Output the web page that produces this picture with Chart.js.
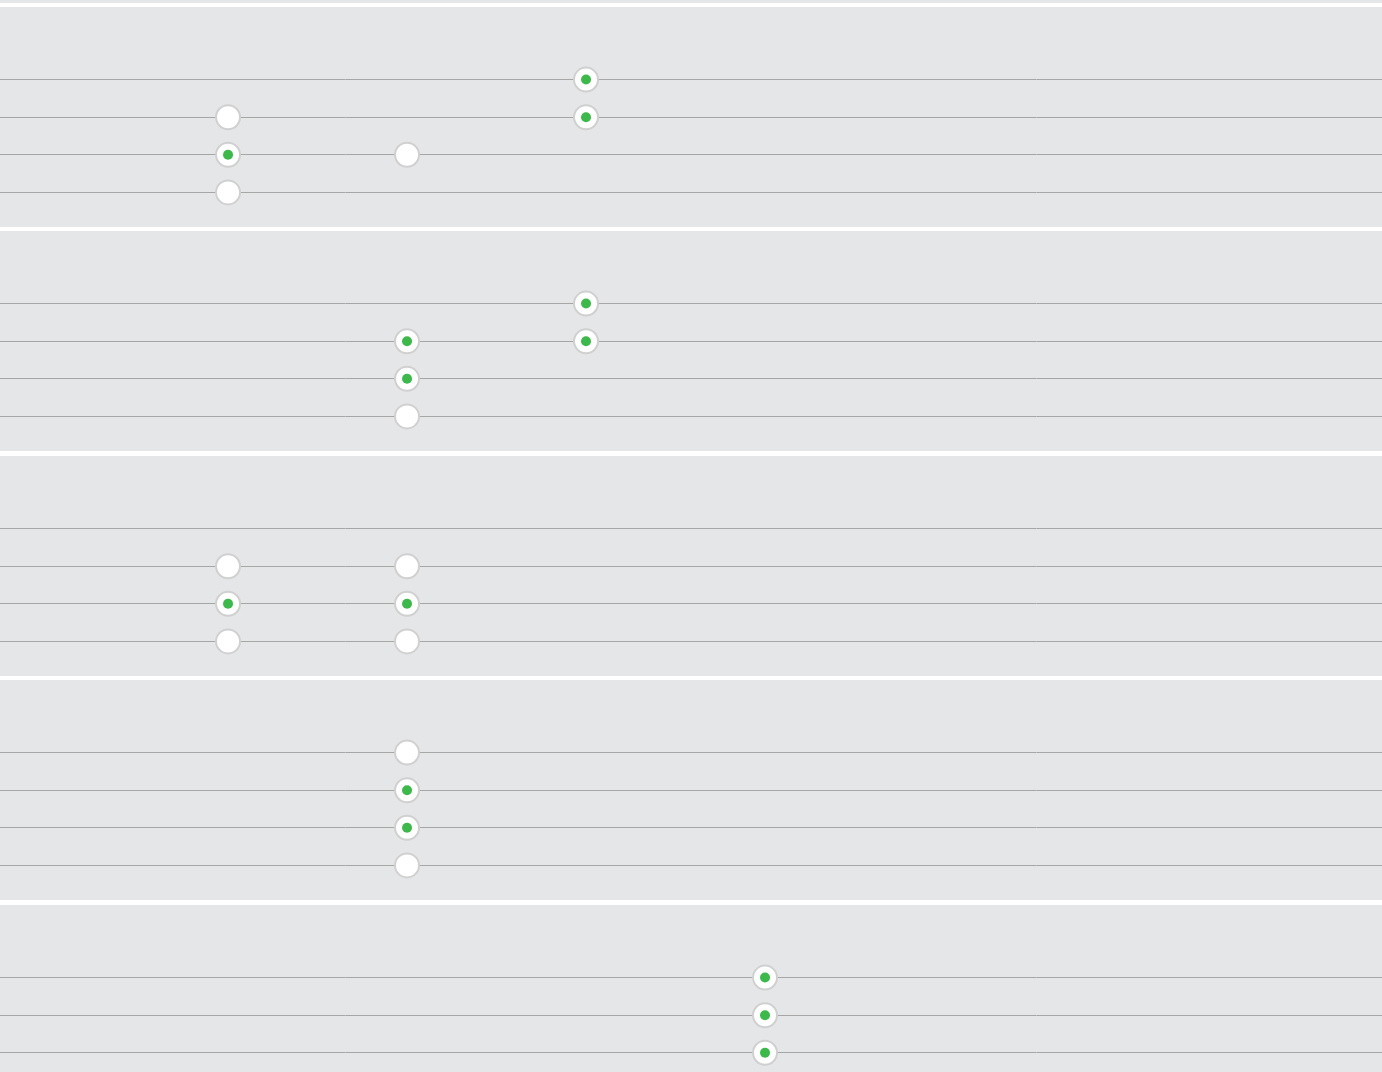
<!DOCTYPE html>
<html>
<head>
<meta charset="utf-8">
<script src="https://cdn.jsdelivr.net/npm/chart.js@4.4.1/dist/chart.umd.min.js"></script>
<style>
  html, body { margin: 0; padding: 0; background: #ffffff; overflow: hidden; }
  body { width: 1382px; height: 1072px; position: relative; font-family: "Open Sans", sans-serif; }
  .panel { position: absolute; left: 0; width: 1382px; height: 220px; background: #e5e6e8; }
</style>
</head>
<body>
<div class="panel" style="top:-217px"></div>
<div class="panel" style="top:7px"><canvas id="p1"></canvas></div>
<div class="panel" style="top:231px"><canvas id="p2"></canvas></div>
<div class="panel" style="top:456px"><canvas id="p3"></canvas></div>
<div class="panel" style="top:680px"><canvas id="p4"></canvas></div>
<div class="panel" style="top:905px"><canvas id="p5"></canvas></div>
<script>
// rows (grid lines) and columns are plain numbers: row 4 is the top line
const rowTicks = [1, 2, 3, 4];
const colRange = [-0.274, 7.447];
const rowRange = [0.08, 5.93];

// [column, row] for each marker, per panel
const panel1Checked = [[3, 4], [3, 3], [1, 2]];
const panel1Open = [[1, 3], [2, 2], [1, 1]];

const panel2Checked = [[3, 4], [2, 3], [3, 3], [2, 2]];
const panel2Open = [[2, 1]];

const panel3Checked = [[1, 2], [2, 2]];
const panel3Open = [[1, 3], [2, 3], [1, 1], [2, 1]];

const panel4Checked = [[2, 3], [2, 2]];
const panel4Open = [[2, 4], [2, 1]];

const panel5Checked = [[4, 4], [4, 3], [4, 2]];
const panel5Open = [];

const toPts = arr => arr.map(([x, y]) => ({ x, y }));

function drawPanel(id, checked, open) {
    const ctx = document.getElementById(id).getContext('2d');
    return new Chart(ctx, {
        type: 'scatter',
        data: {
            datasets: [
                {
                    // green centre dots
                    data: toPts(checked),
                    pointRadius: 5,
                    pointHoverRadius: 5,
                    pointBackgroundColor: '#3db84a',
                    pointBorderWidth: 0,
                    order: 0
                },
                {
                    // white rings for every answer slot
                    data: toPts(checked.concat(open)),
                    pointRadius: 12,
                    pointHoverRadius: 12,
                    pointBackgroundColor: '#ffffff',
                    pointBorderColor: '#d0d0d0',
                    pointBorderWidth: 2,
                    order: 1
                }
            ]
        },
        options: {
            responsive: true,
            maintainAspectRatio: false,
            animation: false,
            events: [],
            layout: { padding: 0, autoPadding: false },
            plugins: { legend: { display: false }, tooltip: { enabled: false } },
            scales: {
                x: { type: 'linear', display: false, min: colRange[0], max: colRange[1] },
                y: {
                    type: 'linear',
                    min: rowRange[0],
                    max: rowRange[1],
                    afterBuildTicks: s => { s.ticks = rowTicks.map(v => ({ value: v })); },
                    afterFit: s => { s.width = 0; },
                    ticks: { display: false },
                    border: { display: false },
                    grid: { color: '#a6a6a6', lineWidth: 1, drawTicks: false }
                }
            }
        }
    });
}

drawPanel('p1', panel1Checked, panel1Open);
drawPanel('p2', panel2Checked, panel2Open);
drawPanel('p3', panel3Checked, panel3Open);
drawPanel('p4', panel4Checked, panel4Open);
drawPanel('p5', panel5Checked, panel5Open);
</script>
</body>
</html>
